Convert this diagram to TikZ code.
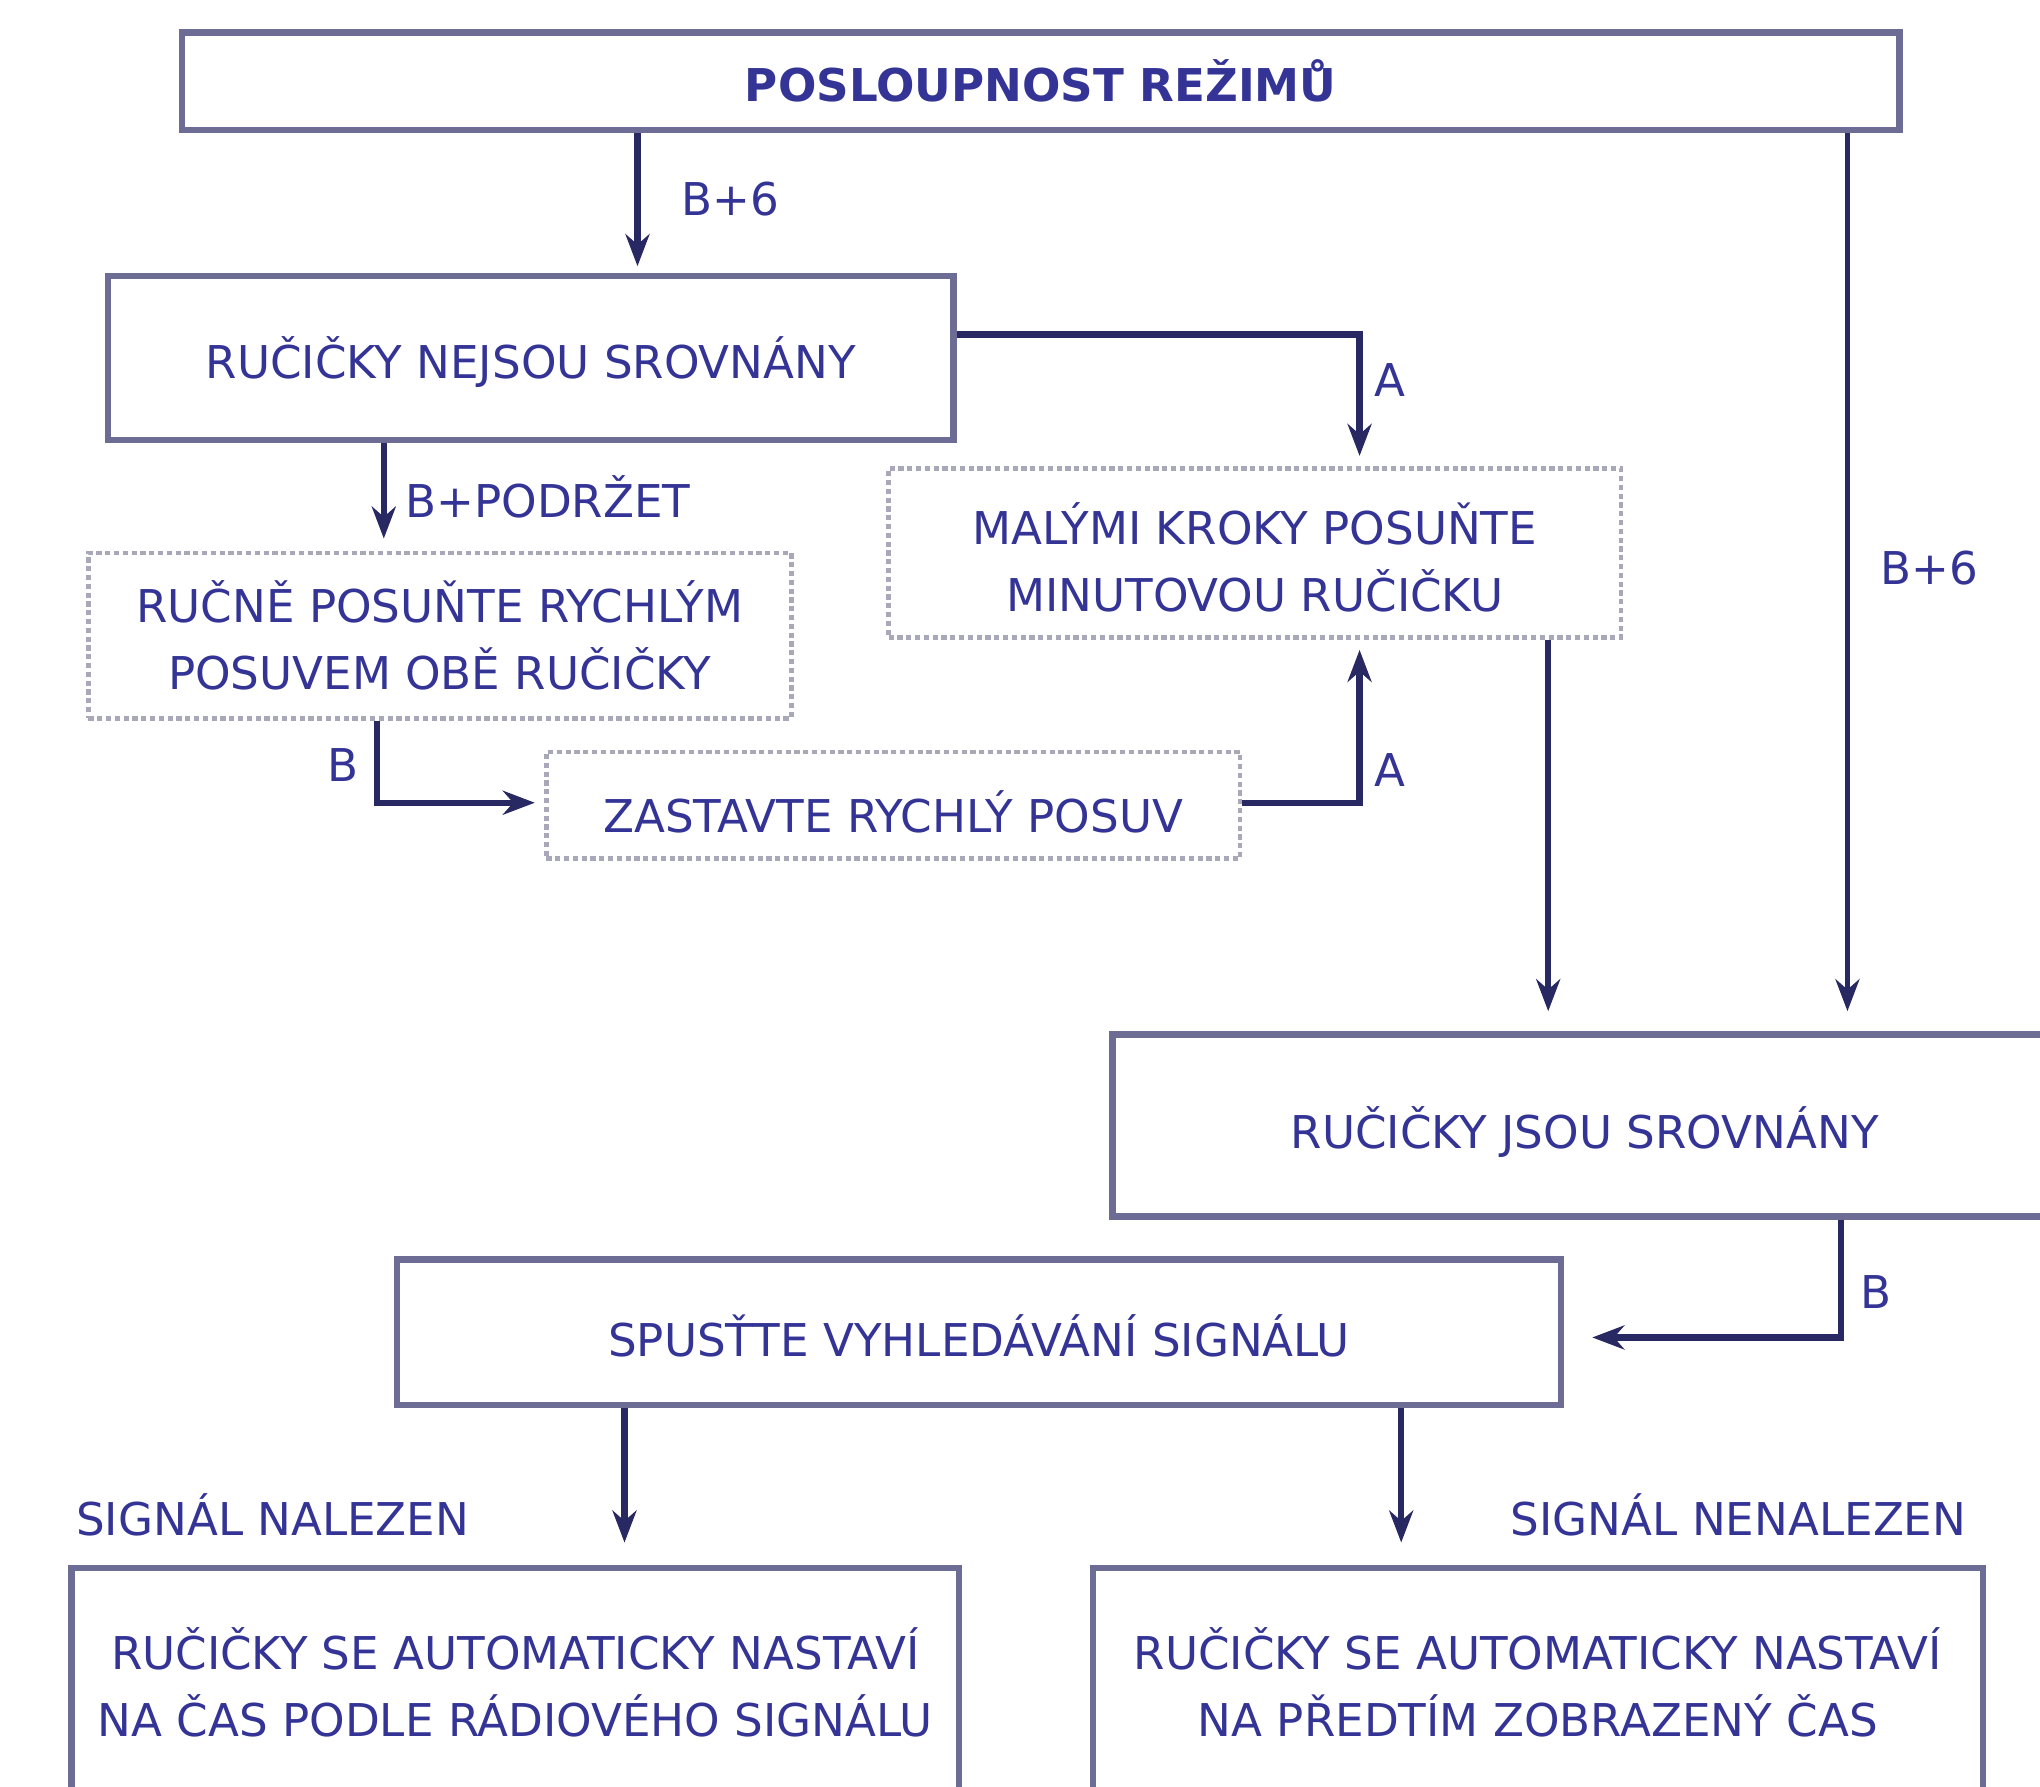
\documentclass[tikz,border=0pt]{standalone}
\usepackage{fontspec}
\setmainfont{DejaVu Sans}
\usetikzlibrary{arrows.meta}
\definecolor{txtblue}{RGB}{52,52,150}
\definecolor{arrnavy}{RGB}{40,40,98}
\definecolor{boxgray}{RGB}{108,108,148}
\definecolor{dotgray}{RGB}{168,168,184}

\begin{document}
\begin{tikzpicture}[x=0.3253pt,y=0.3253pt,yscale=-1,
	font=\fontsize{11.3}{16.9}\selectfont,
	box/.style={draw=boxgray, line width=1.6pt, text=txtblue, align=center, inner sep=0pt},
	dotbox/.style={draw=dotgray, line width=1.2pt, dash pattern=on 1.3pt off 0.9pt, text=txtblue, align=center, inner sep=0pt},
	oneline/.style={text height=#1, text depth=0pt},
	arr/.style={draw=arrnavy, line width=1.6pt, shorten >=2.5pt, -{Stealth[length=8pt,width=6pt]}},
	lbl/.style={text=txtblue, inner sep=0pt}]
	\useasboundingbox (0,0) rectangle (1568,1373);

	% boxes
	\node [box, oneline=9.9pt, minimum width=429.4pt, minimum height=24.4pt, font=\fontsize{11.3}{16.9}\selectfont\bfseries] (mode) at (800,62.5) {POSLOUPNOST REŽIMŮ};
	\node [box, oneline=10.2pt, minimum width=211.4pt, minimum height=41pt] (nejsou) at (408,275) {RUČIČKY NEJSOU SROVNÁNY};
	\node [dotbox, minimum width=175.7pt, minimum height=41.3pt] (rucne) at (338,488.5) {RUČNĚ POSUŇTE RYCHLÝM\\POSUVEM OBĚ RUČIČKY};
	\node [dotbox, minimum width=183.1pt, minimum height=42.3pt] (malymi) at (964.5,425) {\rule{0pt}{12.6pt}MALÝMI KROKY POSUŇTE\\MINUTOVOU RUČIČKU};
	\node [dotbox, oneline=13.4pt, minimum width=173.4pt, minimum height=26.7pt] (zastavte) at (686.5,619) {ZASTAVTE RYCHLÝ POSUV};
	\node [box, oneline=11.5pt, minimum width=236.2pt, minimum height=45.5pt] (jsou) at (1218,865) {RUČIČKY JSOU SROVNÁNY};
	\node [box, oneline=12.1pt, minimum width=291.1pt, minimum height=36.4pt] (spustte) at (752.5,1024) {SPUSŤTE VYHLEDÁVÁNÍ SIGNÁLU};
	\node [box, minimum width=221.9pt, minimum height=59.2pt] (nalezen) at (396,1296) {RUČIČKY SE AUTOMATICKY NASTAVÍ\\NA ČAS PODLE RÁDIOVÉHO SIGNÁLU\rule[-2pt]{0pt}{2pt}};
	\node [box, minimum width=222.5pt, minimum height=59.2pt] (nenalezen) at (1182,1296) {RUČIČKY SE AUTOMATICKY NASTAVÍ\\NA PŘEDTÍM ZOBRAZENÝ ČAS\rule[-2pt]{0pt}{2pt}};

	% connectors
	\draw [arr, shorten >=1.6pt] (mode.south -| 490,0) -- (nejsou.north -| 490,0);
	\draw [arr, line width=1.3pt, shorten >=5pt] (mode.south -| 1420,0) -- (jsou.north -| 1420,0);
	\draw [arr] (nejsou.east |- 0,257) -| (malymi.north -| 1045,0);
	\draw [arr, shorten >=3pt] (nejsou.south -| 295,0) -- (rucne.north -| 295,0);
	\draw [arr, shorten >=2.3pt] (rucne.south -| 290,0) |- (zastavte.west |- 0,617);
	\draw [arr] (zastavte.east |- 0,617) -| (malymi.south -| 1045,0);
	\draw [arr, line width=1.4pt, shorten >=5pt] (malymi.south -| 1190,0) -- (jsou.north -| 1190,0);
	\draw [arr, shorten >=7pt] (jsou.south -| 1415,0) |- (spustte.east |- 0,1028);
	\draw [arr, shorten >=5.5pt] (spustte.south -| 480,0) -- (nalezen.north -| 480,0);
	\draw [arr, shorten >=5.5pt] (spustte.south -| 1077,0) -- (nenalezen.north -| 1077,0);

	% labels
	\node [lbl, anchor=base west] (l1) at (523,165.5) {B+6};
	\node [lbl, anchor=base] (l2) at (1068,304.5) {A};
	\node [lbl, anchor=base west] (l3) at (311,397.5) {B+PODRŽET};
	\node [lbl, anchor=base] (l4) at (1483,449.5) {B+6};
	\node [lbl, anchor=base] (l5) at (264,600.5) {B};
	\node [lbl, anchor=base] (l6) at (1068,604.5) {A};
	\node [lbl, anchor=base] (l7) at (1442,1005.5) {B};
	\node [lbl, anchor=base west] (l8) at (58,1180.5) {SIGNÁL NALEZEN};
	\node [lbl, anchor=base east] (l9) at (1512,1180.5) {SIGNÁL NENALEZEN};
\end{tikzpicture}
\end{document}
